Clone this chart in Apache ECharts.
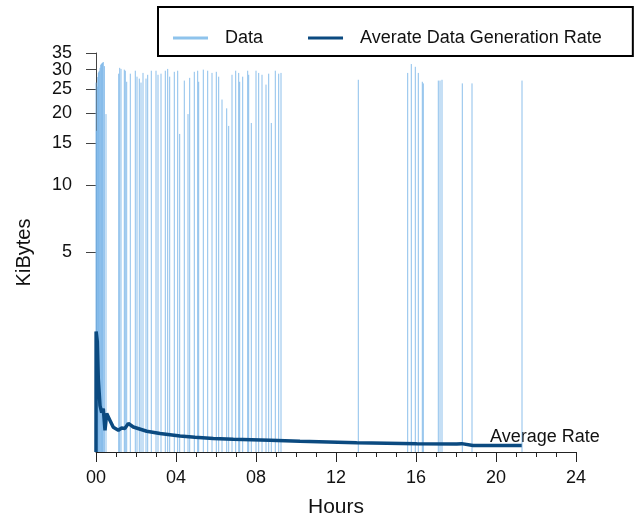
<!DOCTYPE html>
<html>
<head>
<meta charset="utf-8">
<script src="https://cdn.jsdelivr.net/npm/echarts@6/dist/echarts.min.js"></script>
<style>
html,body{margin:0;padding:0;background:#fff;}
#chart{width:639px;height:523px;}
</style>
</head>
<body>
<div id="chart"></div>
<script>
// Data spikes: event time (hours) and size (KiBytes)
const spikeHours = [0.00,0.025,0.065,0.09,0.115,0.14,0.165,0.20,0.235,0.27,0.30,0.33,0.365,0.42,0.50,
  1.135,1.185,1.25,1.415,1.465,1.535,1.715,1.965,2.05,2.165,2.25,2.35,2.5,2.585,2.765,
  3.0,3.1,3.25,3.465,3.585,3.685,3.915,4.085,4.185,4.415,4.6,4.685,4.915,5.085,5.135,
  5.365,5.585,5.8,6.015,6.135,6.3,6.535,6.635,6.8,6.985,7.135,7.185,7.335,7.585,7.635,
  7.765,8.0,8.135,8.3,8.5,8.635,8.765,8.965,9.135,9.25,
  13.115,15.585,15.765,15.965,16.115,16.315,16.365,17.115,17.2,17.3,18.315,18.8,21.3];
const spikeValues = [26.6,16.9,25.6,28.0,29.1,29.4,29.7,30.5,31.4,31.6,31.9,32.0,32.2,31.0,19.8,
  28.9,30.5,30.2,30.0,29.7,26.8,28.9,29.7,28.1,27.6,26.6,29.1,27.6,28.6,29.7,
  29.7,28.6,28.9,29.7,30.2,28.1,29.4,29.7,16.4,27.1,19.8,27.8,29.4,29.7,26.8,
  30.0,29.7,29.1,29.4,28.1,22.7,20.9,17.7,28.6,29.7,29.1,26.8,28.1,29.7,28.6,
  18.2,29.7,29.1,28.6,26.1,28.9,18.2,29.7,28.9,29.1,
  27.3,29.1,31.6,30.8,29.1,26.8,26.4,27.1,27.1,27.3,26.4,26.4,27.1];

// Average data generation rate
const avgHours = [0,0.005,0.04,0.065,0.115,0.2,0.285,0.365,0.45,0.535,0.7,0.865,1.115,
  1.285,1.45,1.615,1.865,2.535,3.2,4.2,4.95,5.865,6.865,8.7,10.2,13.035,16.035,18.035,
  18.285,18.85,21.285];
const avgValues = [0,1.95,1.9,1.70,0.93,0.517,0.426,0.477,0.215,0.413,0.328,0.248,0.215,
  0.240,0.236,0.293,0.252,0.205,0.18,0.155,0.142,0.129,0.122,0.112,0.102,0.086,0.076,0.074,
  0.078,0.061,0.061];

const yTickLabels = [5,10,15,20,25,30,35];
const xTickLabels = ['00','04','08','12','16','20','24'];

const tf = v => Math.log10(v + 1);

const spikeData = [];
spikeHours.forEach((h, i) => {
  spikeData.push([h, 0]);
  spikeData.push([h, tf(spikeValues[i])]);
  spikeData.push([h, '-']);
});
const avgData = avgHours.map((h, i) => [h, tf(avgValues[i])]);
const yTicks = yTickLabels.map(tf);
const yTicksLow = yTicks.slice(0, -1);   // 5 … 30
const yTicksTop = yTicks.slice(-1);      // 35

const font = 'Liberation Sans, Arial, sans-serif';
const yFmt = v => String(Math.round(Math.pow(10, v) - 1));
const yLabelBase = {fontFamily: font, fontSize: 18, color: '#111', margin: 24, formatter: yFmt};

const chart = echarts.init(document.getElementById('chart'), null, {renderer: 'canvas'});
chart.setOption({
  animation: false,
  backgroundColor: '#fff',
  grid: {left: 96, right: 63, top: 53, bottom: 67, containLabel: false},
  legend: {
    left: 158, top: 7,
    padding: [22, 31, 9, 15],
    borderColor: '#000', borderWidth: 2, borderRadius: 0,
    itemWidth: 35, itemHeight: 3, itemGap: 45,
    icon: 'rect',
    textStyle: {fontFamily: font, fontSize: 18, color: '#111', padding: [0,0,0,12]},
    data: [
      {name: 'Data', itemStyle: {color: '#8ec3ec'}},
      {name: 'Averate Data Generation Rate', itemStyle: {color: '#0b4a80'}}
    ]
  },
  xAxis: {
    type: 'value', min: 0, max: 24, interval: 4,
    name: 'Hours', nameLocation: 'middle', nameGap: 45,
    nameTextStyle: {fontFamily: font, fontSize: 21, color: '#111'},
    axisLine: {show: true, lineStyle: {color: '#222', width: 1}},
    axisTick: {show: true, length: 10, lineStyle: {color: '#222'}},
    minorTick: {show: true, splitNumber: 4, length: 5, lineStyle: {color: '#222'}},
    axisLabel: {fontFamily: font, fontSize: 18, color: '#111', margin: 17,
      showMinLabel: true, showMaxLabel: true,
      formatter: v => xTickLabels[Math.round(v / 4)]},
    splitLine: {show: false}
  },
  yAxis: [{
    type: 'value', min: 0, max: tf(35), position: 'left',
    name: 'KiBytes', nameLocation: 'middle', nameGap: 62,
    nameTextStyle: {fontFamily: font, fontSize: 20, color: '#111'},
    axisLine: {show: true, lineStyle: {color: '#444', width: 1}},
    axisTick: {show: true, length: 10, customValues: yTicksLow, lineStyle: {color: '#444'}},
    axisLabel: Object.assign({customValues: yTicksLow, showMinLabel: true, showMaxLabel: true}, yLabelBase),
    splitLine: {show: false}
  }, {
    type: 'value', min: 0, max: tf(35), position: 'left', offset: 0,
    axisLine: {show: false},
    axisTick: {show: true, length: 10, customValues: yTicksTop, lineStyle: {color: '#444'}},
    axisLabel: Object.assign({customValues: yTicksTop, showMinLabel: true, showMaxLabel: true}, yLabelBase),
    splitLine: {show: false}
  }],
  series: [
    {
      name: 'Data', type: 'line', data: spikeData, symbol: 'none',
      connectNulls: false, clip: false,
      lineStyle: {color: 'rgba(120,180,232,0.85)', width: 1},
      itemStyle: {color: '#8ec3ec'},
      z: 2
    },
    {
      name: 'Averate Data Generation Rate', type: 'line', data: avgData, symbol: 'none',
      lineStyle: {color: '#0b4a80', width: 3.5},
      itemStyle: {color: '#0b4a80'},
      z: 3
    }
  ],
  graphic: [{
    type: 'text', left: 490, top: 428,
    style: {text: 'Average Rate', font: '18px ' + font, fill: '#111'}
  }]
});
</script>
</body>
</html>
